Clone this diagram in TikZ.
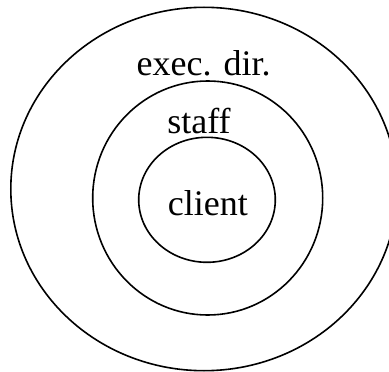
\documentclass[tikz,border=0pt]{standalone}
\usepackage{fontspec}
\setmainfont{Liberation Serif}
\begin{document}
\begin{tikzpicture}[x=1pt,y=-1pt,
  ring/.style={draw=black,line width=1.6pt},
  label/.style={anchor=base,inner sep=0pt,font=\fontsize{36}{40}\selectfont}]
\useasboundingbox (0,0) rectangle (389,372);
% three nested rings
\draw[ring] (204,189) ellipse [x radius=193.2,y radius=181.7];
\draw[ring] (207.7,198) ellipse [x radius=115,y radius=117];
\draw[ring] (207,199.8) ellipse [x radius=68.3,y radius=62.5];
% ring labels
\node[label] (exec) at (203.7,75) {exec. dir.};
\node[label] (staff) at (199,133) {staff};
\node[label] (client) at (207.8,215) {client};
\end{tikzpicture}
\end{document}
